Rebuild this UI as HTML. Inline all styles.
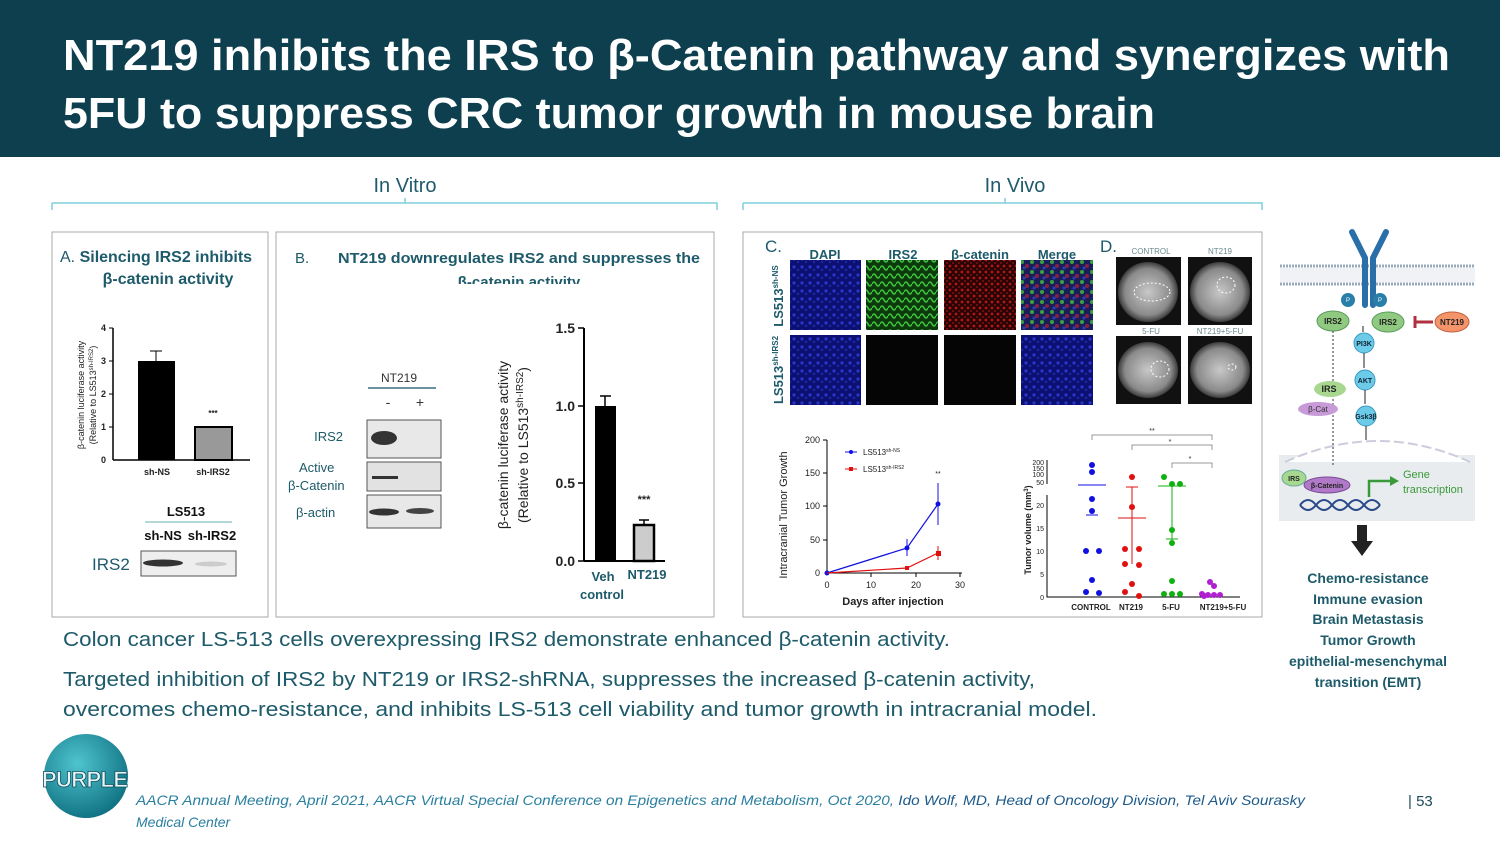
<!DOCTYPE html>
<html><head><meta charset="utf-8"><style>
html,body{margin:0;padding:0;background:#fff;}
svg{display:block;font-family:"Liberation Sans",sans-serif;}
.t{fill:#1d5a6a;}
</style></head><body>
<svg width="1500" height="843" viewBox="0 0 1500 843" xmlns="http://www.w3.org/2000/svg">
<defs>
<pattern id="blu" width="8" height="8" patternUnits="userSpaceOnUse"><rect width="8" height="8" fill="#0c1070"/><circle cx="2" cy="3" r="1.6" fill="#2a35d0"/><circle cx="6" cy="6" r="1.2" fill="#1e28b0"/></pattern>
<pattern id="grn" width="8" height="8" patternUnits="userSpaceOnUse"><rect width="8" height="8" fill="#0d3a0d"/><path d="M0 4 Q2 0 4 4 T8 4" stroke="#3fc03f" stroke-width="1.6" fill="none"/></pattern>
<pattern id="red" width="6" height="6" patternUnits="userSpaceOnUse"><rect width="6" height="6" fill="#2a0404"/><circle cx="2" cy="2" r="1.4" fill="#b01818"/><circle cx="5" cy="5" r="1" fill="#801010"/></pattern>
<pattern id="mrg" width="10" height="10" patternUnits="userSpaceOnUse"><rect width="10" height="10" fill="#1a1f5a"/><circle cx="2" cy="2" r="2" fill="#3aa040"/><circle cx="7" cy="6" r="2" fill="#8a2040"/><circle cx="4" cy="8" r="1.5" fill="#2a40c0"/></pattern>
<radialGradient id="mri" cx="50%" cy="50%" r="55%"><stop offset="0" stop-color="#c8c8c8"/><stop offset="0.7" stop-color="#8a8a8a"/><stop offset="1" stop-color="#1a1a1a"/></radialGradient>
<radialGradient id="logo" cx="40%" cy="35%" r="70%"><stop offset="0" stop-color="#4fc4cf"/><stop offset="1" stop-color="#0e6f80"/></radialGradient>
</defs>

<rect x="0" y="0" width="1500" height="157" fill="#0d3f4f"/>
<text x="63" y="70" font-size="44" font-weight="bold" fill="#fff" textLength="1387" lengthAdjust="spacingAndGlyphs">NT219 inhibits the IRS to β-Catenin pathway and synergizes with</text>
<text x="63" y="128" font-size="44" font-weight="bold" fill="#fff" textLength="1092" lengthAdjust="spacingAndGlyphs">5FU to suppress CRC tumor growth in mouse brain</text>

<!-- brackets -->
<text x="405" y="192" font-size="20" text-anchor="middle" class="t">In Vitro</text>
<path d="M52 210 V203 M52 203 H717 V210 M405 203 V198" stroke="#7fcfdc" stroke-width="1.5" fill="none"/>
<text x="1015" y="192" font-size="20" text-anchor="middle" class="t">In Vivo</text>
<path d="M743 210 V203 M743 203 H1262 V210 M1005 203 V198" stroke="#7fcfdc" stroke-width="1.5" fill="none"/>

<!-- panel boxes -->
<rect x="52" y="232" width="216" height="385" fill="none" stroke="#aaa"/>
<rect x="276" y="232" width="438" height="385" fill="none" stroke="#aaa"/>
<rect x="743" y="232" width="519" height="385" fill="none" stroke="#aaa"/>

<!-- Panel A -->
<text x="60" y="262" font-size="16" font-weight="bold" class="t"><tspan font-weight="normal">A.</tspan> Silencing IRS2 inhibits</text>
<text x="168" y="284" font-size="16" font-weight="bold" text-anchor="middle" class="t">β-catenin activity</text>
<g font-size="9" font-weight="bold" fill="#222">
<line x1="113" y1="328" x2="113" y2="460" stroke="#000" stroke-width="1.5"/>
<line x1="113" y1="460" x2="250" y2="460" stroke="#000" stroke-width="1.5"/>
<g stroke="#000"><line x1="109" y1="328" x2="113" y2="328"/><line x1="109" y1="361" x2="113" y2="361"/><line x1="109" y1="394" x2="113" y2="394"/><line x1="109" y1="427" x2="113" y2="427"/></g>
<text x="106" y="331" text-anchor="end">4</text><text x="106" y="364" text-anchor="end">3</text><text x="106" y="397" text-anchor="end">2</text><text x="106" y="430" text-anchor="end">1</text><text x="106" y="463" text-anchor="end">0</text>
<rect x="138" y="361" width="37" height="99" fill="#000"/>
<path d="M156 361 V351 M150 351 H162" stroke="#000"/>
<rect x="195" y="427" width="37" height="33" fill="#999" stroke="#000" stroke-width="2"/>
<text x="213" y="416" text-anchor="middle" font-size="8">***</text>
<text x="157" y="475" text-anchor="middle">sh-NS</text><text x="213" y="475" text-anchor="middle">sh-IRS2</text>
<text transform="translate(84,395) rotate(-90)" text-anchor="middle" font-weight="normal">β-catenin luciferase activity</text>
<text transform="translate(96,395) rotate(-90)" text-anchor="middle" font-weight="normal">(Relative to LS513<tspan font-size="6" dy="-3">sh-IRS2</tspan><tspan dy="3">)</tspan></text>
</g>
<text x="186" y="516" font-size="13" font-weight="bold" text-anchor="middle" fill="#111">LS513</text>
<line x1="145" y1="522" x2="232" y2="522" stroke="#9cc" stroke-width="1.5"/>
<text x="163" y="540" font-size="13" font-weight="bold" text-anchor="middle" fill="#111">sh-NS</text>
<text x="212" y="540" font-size="13" font-weight="bold" text-anchor="middle" fill="#111">sh-IRS2</text>
<text x="92" y="570" font-size="17" class="t">IRS2</text>
<rect x="141" y="551" width="95" height="25" fill="#eee" stroke="#555"/>
<ellipse cx="163" cy="563" rx="20" ry="3.5" fill="#333"/>
<ellipse cx="211" cy="564" rx="16" ry="2.5" fill="#ccc"/>

<!-- Panel B -->
<text x="295" y="263" font-size="15" class="t">B.</text>
<text x="338" y="263" font-size="15" font-weight="bold" class="t" textLength="362" lengthAdjust="spacingAndGlyphs">NT219 downregulates IRS2 and suppresses the</text>
<text x="519" y="287" font-size="15" font-weight="bold" text-anchor="middle" class="t">β-catenin activity</text>
<rect x="400" y="284" width="240" height="6" fill="#fff"/>
<text x="399" y="382" font-size="12" text-anchor="middle" fill="#333">NT219</text>
<line x1="368" y1="388" x2="436" y2="388" stroke="#3a6f7f" stroke-width="1.5"/>
<text x="388" y="407" font-size="14" text-anchor="middle" fill="#333">-</text>
<text x="420" y="407" font-size="14" text-anchor="middle" fill="#333">+</text>
<rect x="367" y="420" width="74" height="38" fill="#e8e8e8" stroke="#555"/>
<ellipse cx="384" cy="438" rx="13" ry="7" fill="#333"/>
<rect x="367" y="462" width="74" height="29" fill="#e2e2e2" stroke="#555"/>
<rect x="372" y="476" width="26" height="3" fill="#333"/>
<rect x="367" y="495" width="74" height="33" fill="#e8e8e8" stroke="#555"/>
<ellipse cx="384" cy="512" rx="15" ry="3.5" fill="#333"/><ellipse cx="420" cy="511" rx="14" ry="3" fill="#444"/>
<g font-size="13" class="t"><text x="343" y="441" text-anchor="end">IRS2</text><text x="299" y="472">Active</text><text x="288" y="490">β-Catenin</text><text x="296" y="517">β-actin</text></g>
<g font-size="14" font-weight="bold" fill="#222">
<line x1="584" y1="328" x2="584" y2="561" stroke="#000" stroke-width="2"/>
<line x1="584" y1="561" x2="665" y2="561" stroke="#000" stroke-width="2"/>
<g stroke="#000" stroke-width="1.5"><line x1="578" y1="328" x2="584" y2="328"/><line x1="578" y1="406" x2="584" y2="406"/><line x1="578" y1="483" x2="584" y2="483"/><line x1="578" y1="561" x2="584" y2="561"/></g>
<text x="575" y="333" text-anchor="end">1.5</text><text x="575" y="411" text-anchor="end">1.0</text><text x="575" y="488" text-anchor="end">0.5</text><text x="575" y="566" text-anchor="end">0.0</text>
<rect x="595" y="406" width="21" height="155" fill="#000"/>
<path d="M605 406 V396 M600 396 H611" stroke="#000" stroke-width="1.5"/>
<rect x="634" y="525" width="20" height="36" fill="#ccc" stroke="#000" stroke-width="2.5"/>
<path d="M644 525 V520 M639 520 H649" stroke="#000" stroke-width="1.5"/>
<text x="644" y="503" text-anchor="middle" font-size="11">***</text>
<text transform="translate(508,445) rotate(-90)" text-anchor="middle" font-size="14" font-weight="normal">β-catenin luciferase activity</text>
<text transform="translate(528,445) rotate(-90)" text-anchor="middle" font-size="14" font-weight="normal">(Relative to LS513<tspan font-size="10" dy="-5">sh-IRS2</tspan><tspan dy="5">)</tspan></text>
</g>
<g font-size="13" font-weight="bold" class="t"><text x="603" y="581" text-anchor="middle">Veh</text><text x="602" y="599" text-anchor="middle">control</text><text x="647" y="579" text-anchor="middle">NT219</text></g>

<!-- Panel C -->
<text x="765" y="252" font-size="17" class="t">C.</text>
<g font-size="13" font-weight="bold" class="t" text-anchor="middle"><text x="825" y="259">DAPI</text><text x="903" y="259">IRS2</text><text x="980" y="259">β-catenin</text><text x="1057" y="259">Merge</text></g>
<rect x="790" y="260" width="71" height="70" fill="url(#blu)"/>
<rect x="866" y="260" width="72" height="70" fill="url(#grn)"/>
<rect x="944" y="260" width="72" height="70" fill="url(#red)"/>
<rect x="1021" y="260" width="72" height="70" fill="url(#mrg)"/>
<rect x="790" y="335" width="71" height="70" fill="url(#blu)"/>
<rect x="866" y="335" width="72" height="70" fill="#050505"/>
<rect x="944" y="335" width="72" height="70" fill="#050505"/>
<rect x="1021" y="335" width="72" height="70" fill="url(#blu)"/>
<text transform="translate(783,296) rotate(-90)" text-anchor="middle" font-size="13" font-weight="bold" class="t">LS513<tspan font-size="8" dy="-5">sh-NS</tspan></text>
<text transform="translate(783,370) rotate(-90)" text-anchor="middle" font-size="13" font-weight="bold" class="t">LS513<tspan font-size="8" dy="-5">sh-IRS2</tspan></text>

<!-- Panel D -->
<text x="1100" y="252" font-size="17" class="t">D.</text>
<g font-size="8" fill="#6a8a90" text-anchor="middle"><text x="1151" y="254">CONTROL</text><text x="1220" y="254">NT219</text><text x="1151" y="334">5-FU</text><text x="1220" y="334">NT219+5-FU</text></g>
<g>
<rect x="1116" y="257" width="65" height="68" fill="#111"/><ellipse cx="1148" cy="292" rx="30" ry="30" fill="url(#mri)"/>
<rect x="1188" y="257" width="64" height="68" fill="#111"/><ellipse cx="1220" cy="292" rx="30" ry="30" fill="url(#mri)"/>
<rect x="1116" y="336" width="65" height="68" fill="#111"/><ellipse cx="1148" cy="370" rx="30" ry="28" fill="url(#mri)"/>
<rect x="1188" y="336" width="64" height="68" fill="#111"/><ellipse cx="1220" cy="370" rx="30" ry="28" fill="url(#mri)"/>
<g fill="none" stroke="#fff" stroke-dasharray="2 2" stroke-width="1"><ellipse cx="1152" cy="292" rx="18" ry="9"/><ellipse cx="1226" cy="285" rx="9" ry="8"/><ellipse cx="1160" cy="369" rx="9" ry="8"/><ellipse cx="1232" cy="367" rx="4" ry="3"/></g>
</g>

<!-- line chart -->
<g font-size="9" fill="#222">
<line x1="827" y1="440" x2="827" y2="573" stroke="#000"/>
<line x1="827" y1="573" x2="962" y2="573" stroke="#000"/>
<g stroke="#000"><line x1="823" y1="440" x2="827" y2="440"/><line x1="823" y1="473" x2="827" y2="473"/><line x1="823" y1="506" x2="827" y2="506"/><line x1="823" y1="540" x2="827" y2="540"/><line x1="871" y1="573" x2="871" y2="577"/><line x1="916" y1="573" x2="916" y2="577"/><line x1="960" y1="573" x2="960" y2="577"/></g>
<text x="820" y="443" text-anchor="end">200</text><text x="820" y="476" text-anchor="end">150</text><text x="820" y="509" text-anchor="end">100</text><text x="820" y="543" text-anchor="end">50</text><text x="820" y="576" text-anchor="end">0</text>
<text x="827" y="588" text-anchor="middle">0</text><text x="871" y="588" text-anchor="middle">10</text><text x="916" y="588" text-anchor="middle">20</text><text x="960" y="588" text-anchor="middle">30</text>
<text x="893" y="605" text-anchor="middle" font-size="11" font-weight="bold">Days after injection</text>
<text transform="translate(787,515) rotate(-90)" text-anchor="middle" font-size="11">Intracranial Tumor Growth</text>
<polyline points="827,573 907,548 938,504" fill="none" stroke="#1010e0" stroke-width="1.2"/>
<path d="M907 548 V539 M907 548 V556 M938 504 V483 M938 504 V525" stroke="#1010e0"/>
<circle cx="827" cy="573" r="2.5" fill="#1010e0"/><circle cx="907" cy="548" r="2.5" fill="#1010e0"/><circle cx="938" cy="504" r="2.5" fill="#1010e0"/>
<polyline points="827,573 907,568 938,553" fill="none" stroke="#e01010" stroke-width="1.2"/>
<path d="M938 553 V546 M938 553 V560" stroke="#e01010"/>
<rect x="905" y="566" width="4" height="4" fill="#e01010"/><rect x="936" y="551" width="5" height="5" fill="#e01010"/>
<text x="938" y="476" text-anchor="middle" font-size="7">**</text>
<line x1="845" y1="452" x2="857" y2="452" stroke="#1010e0"/><circle cx="851" cy="452" r="2" fill="#1010e0"/>
<text x="863" y="455" font-size="8">LS513<tspan font-size="5" dy="-3">sh-NS</tspan></text>
<line x1="845" y1="469" x2="857" y2="469" stroke="#e01010"/><rect x="849" y="467" width="4" height="4" fill="#e01010"/>
<text x="863" y="472" font-size="8">LS513<tspan font-size="5" dy="-3">sh-IRS2</tspan></text>
</g>

<!-- scatter -->
<g font-size="7" fill="#222">
<path d="M1047 460 V484 M1047 495 V597 H1240" stroke="#000" fill="none"/>
<g text-anchor="end"><text x="1044" y="465">200</text><text x="1044" y="471">150</text><text x="1044" y="477">100</text><text x="1044" y="485">50</text><text x="1044" y="508">20</text><text x="1044" y="531">15</text><text x="1044" y="554">10</text><text x="1044" y="577">5</text><text x="1044" y="600">0</text></g>
<text transform="translate(1031,530) rotate(-90)" text-anchor="middle" font-size="9" font-weight="bold">Tumor volume (mm<tspan font-size="6" dy="-3">3</tspan><tspan dy="3">)</tspan></text>
<g font-weight="bold" text-anchor="middle" font-size="8"><text x="1091" y="610">CONTROL</text><text x="1131" y="610">NT219</text><text x="1171" y="610">5-FU</text><text x="1223" y="610">NT219+5-FU</text></g>
<path d="M1092 440 V435 H1212 V440 M1132 450 V445 H1212 V450 M1172 468 V463 H1212 V468" stroke="#999" fill="none"/>
<text x="1152" y="433" text-anchor="middle" font-size="7">**</text><text x="1170" y="444" text-anchor="middle" font-size="7">*</text><text x="1190" y="461" text-anchor="middle" font-size="7">*</text>
<g fill="#1010e0"><circle cx="1092" cy="465" r="3"/><circle cx="1092" cy="472" r="3"/><circle cx="1092" cy="499" r="3"/><circle cx="1092" cy="511" r="3"/><circle cx="1086" cy="551" r="3"/><circle cx="1099" cy="551" r="3"/><circle cx="1092" cy="580" r="3"/><circle cx="1086" cy="592" r="3"/><circle cx="1099" cy="593" r="3"/></g>
<path d="M1078 485 H1106 M1086 515 H1098" stroke="#1010e0"/>
<g fill="#e01010"><circle cx="1132" cy="477" r="3"/><circle cx="1132" cy="507" r="3"/><circle cx="1125" cy="549" r="3"/><circle cx="1139" cy="549" r="3"/><circle cx="1125" cy="564" r="3"/><circle cx="1139" cy="565" r="3"/><circle cx="1132" cy="584" r="3"/><circle cx="1125" cy="592" r="3"/><circle cx="1139" cy="596" r="3"/></g>
<path d="M1118 518 H1146 M1132 487 V564 M1126 487 H1138" stroke="#e01010"/>
<g fill="#10b010"><circle cx="1164" cy="477" r="3"/><circle cx="1172" cy="484" r="3"/><circle cx="1180" cy="484" r="3"/><circle cx="1172" cy="530" r="3"/><circle cx="1172" cy="543" r="3"/><circle cx="1172" cy="581" r="3"/><circle cx="1164" cy="594" r="3"/><circle cx="1172" cy="594" r="3"/><circle cx="1180" cy="594" r="3"/></g>
<path d="M1158 486 H1186 M1172 486 V540 M1166 539 H1178" stroke="#10b010"/>
<g fill="#b020d0"><circle cx="1210" cy="582" r="3"/><circle cx="1214" cy="586" r="3"/><circle cx="1202" cy="594" r="3"/><circle cx="1208" cy="595" r="3"/><circle cx="1214" cy="595" r="3"/><circle cx="1220" cy="595" r="3"/><circle cx="1204" cy="596" r="3"/></g>
</g>

<!-- pathway -->
<rect x="1279" y="455" width="196" height="66" fill="#e8ecef"/>
<path d="M1285 462 Q1378 420 1470 462" fill="#fff" stroke="none"/>
<path d="M1285 462 Q1378 420 1470 462" fill="none" stroke="#ccd" stroke-width="2" stroke-dasharray="10 4"/>
<g stroke="#9ab" stroke-width="1"><line x1="1280" y1="266" x2="1475" y2="266" stroke-dasharray="2 1" stroke-width="3"/><line x1="1280" y1="284" x2="1475" y2="284" stroke-dasharray="2 1" stroke-width="3"/></g>
<rect x="1280" y="268" width="195" height="14" fill="#f0f2f5"/>
<g stroke="#2a6fa8" stroke-width="6" stroke-linecap="round" fill="none"><path d="M1352 232 L1365 258 V305"/><path d="M1386 232 L1373 258 V305"/></g>
<circle cx="1348" cy="300" r="7" fill="#2a7fa8"/><circle cx="1380" cy="300" r="7" fill="#2a7fa8"/>
<g font-size="6" fill="#fff" text-anchor="middle"><text x="1348" y="302">P</text><text x="1380" y="302">P</text></g>
<ellipse cx="1333" cy="321" rx="16" ry="10" fill="#8fca80" stroke="#5a9a5a"/>
<ellipse cx="1388" cy="322" rx="16" ry="10" fill="#8fca80" stroke="#5a9a5a"/>
<ellipse cx="1452" cy="322" rx="17" ry="10" fill="#f4946a" stroke="#c06040"/>
<path d="M1433 322 H1415 M1415 316 V328" stroke="#b03040" stroke-width="3"/>
<g font-size="8" font-weight="bold" fill="#222" text-anchor="middle"><text x="1333" y="324">IRS2</text><text x="1388" y="325">IRS2</text><text x="1452" y="325">NT219</text></g>
<g fill="#6ccbe8" stroke="#3a9abf"><circle cx="1364" cy="343" r="10"/><circle cx="1365" cy="380" r="10"/><circle cx="1366" cy="416" r="10"/></g>
<g font-size="7" font-weight="bold" fill="#123" text-anchor="middle"><text x="1364" y="346">PI3K</text><text x="1365" y="383">AKT</text><text x="1366" y="419">Gsk3β</text></g>
<g stroke="#222" stroke-width="1"><path d="M1363 326 V332 M1364 353 V368 M1365 390 V404 M1366 426 V440"/></g>
<path d="M1333 331 V465" stroke="#333" stroke-dasharray="2 2"/>
<ellipse cx="1330" cy="389" rx="16" ry="8" fill="#a8d890"/><text x="1329" y="392" font-size="9" font-weight="bold" fill="#222" text-anchor="middle">IRS</text>
<ellipse cx="1318" cy="409" rx="20" ry="7" fill="#c89ad8"/><text x="1318" y="412" font-size="8" fill="#333" text-anchor="middle">β-Cat</text>
<ellipse cx="1294" cy="478" rx="12" ry="8" fill="#a8d890" stroke="#6a9"/><text x="1294" y="481" font-size="7" font-weight="bold" fill="#222" text-anchor="middle">IRS</text>
<ellipse cx="1327" cy="485" rx="23" ry="8" fill="#b07ac8" stroke="#7a4a9a"/><text x="1327" y="488" font-size="7" font-weight="bold" fill="#222" text-anchor="middle">β-Catenin</text>
<path d="M1369 497 V481 H1392" stroke="#3a9a3a" stroke-width="2.5" fill="none"/><path d="M1390 476 L1399 481 L1390 486 Z" fill="#3a9a3a"/>
<text x="1403" y="478" font-size="11" fill="#3a9a3a">Gene</text><text x="1403" y="493" font-size="11" fill="#3a9a3a">transcription</text>
<path d="M1300 505 q8 -10 16 0 t16 0 t16 0 t16 0 t16 0" stroke="#2a4a8a" stroke-width="2" fill="none"/>
<path d="M1300 505 q8 10 16 0 t16 0 t16 0 t16 0 t16 0" stroke="#2a4a8a" stroke-width="2" fill="none"/>
<path d="M1357 525 H1367 V541 H1373 L1362 556 L1351 541 H1357 Z" fill="#222"/>
<g font-size="14" font-weight="bold" class="t" text-anchor="middle"><text x="1368" y="583">Chemo-resistance</text><text x="1368" y="604">Immune evasion</text><text x="1368" y="624">Brain Metastasis</text><text x="1368" y="645">Tumor Growth</text><text x="1368" y="666">epithelial-mesenchymal</text><text x="1368" y="687">transition (EMT)</text></g>

<!-- text -->
<g font-size="20" class="t"><text x="63" y="646" textLength="887" lengthAdjust="spacingAndGlyphs">Colon cancer LS-513 cells overexpressing IRS2 demonstrate enhanced β-catenin activity.</text>
<text x="63" y="686" textLength="972" lengthAdjust="spacingAndGlyphs">Targeted inhibition of IRS2 by NT219 or IRS2-shRNA, suppresses the increased β-catenin activity,</text>
<text x="63" y="716" textLength="1034" lengthAdjust="spacingAndGlyphs">overcomes chemo-resistance, and inhibits LS-513 cell viability and tumor growth in intracranial model.</text></g>

<!-- footer -->
<circle cx="86" cy="776" r="42" fill="url(#logo)"/>
<text x="42" y="787" font-size="22" font-weight="bold" fill="#e8f4f6" stroke="#0d4f60" stroke-width="0.8" textLength="86">PURPLE</text>
<g font-size="14" font-style="italic" fill="#2a7fa0"><text x="136" y="805" textLength="1169" lengthAdjust="spacingAndGlyphs">AACR Annual Meeting, April 2021, AACR Virtual Special Conference on Epigenetics and Metabolism, Oct 2020, <tspan fill="#1d5a8a">Ido Wolf, MD, Head of Oncology Division, Tel Aviv Sourasky</tspan></text>
<text x="136" y="827">Medical Center</text></g>
<text x="1408" y="806" font-size="15" fill="#1d4a5a">| 53</text>
</svg>
</body></html>
